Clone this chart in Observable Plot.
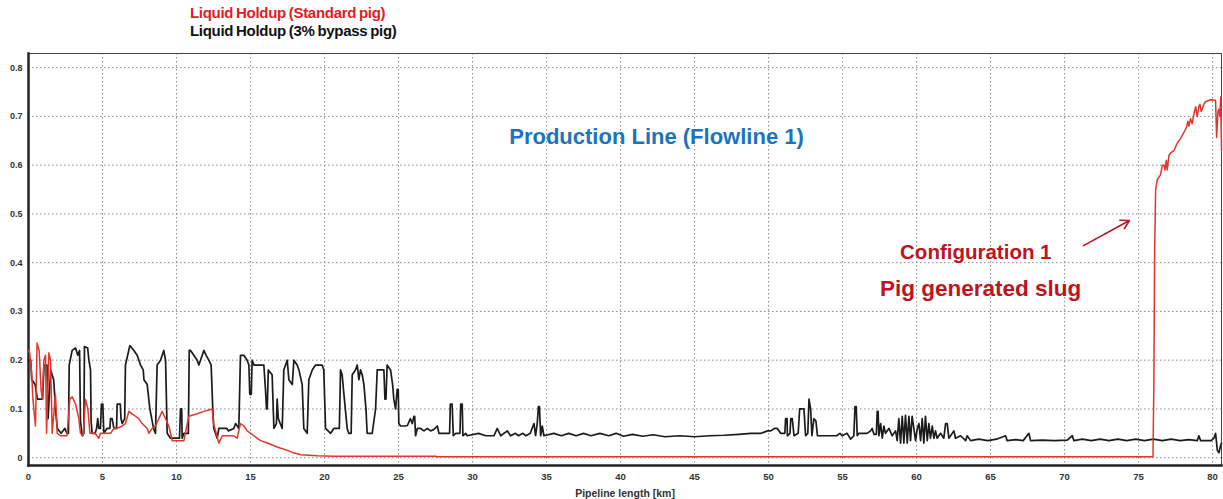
<!DOCTYPE html>
<html>
<head>
<meta charset="utf-8">
<script src="https://cdn.jsdelivr.net/npm/d3@7"></script>
<script src="https://cdn.jsdelivr.net/npm/@observablehq/plot@0.6"></script>
<style>
  html, body { margin: 0; padding: 0; background: #fff; }
  #wrap { position: relative; width: 1223px; height: 499px; font-family: "Liberation Sans", Arial, sans-serif; }
  #legend { position: absolute; left: 190px; top: 4px; font-weight: bold; font-size: 15px; line-height: 18px; letter-spacing: -0.3px; word-spacing: -1px; }
  #chart { position: absolute; left: 0; top: 0; }
</style>
</head>
<body>
<div id="wrap">
  <div id="chart"></div>
  <div id="legend">
    <div style="color:#e31b1f">Liquid Holdup (Standard pig)</div>
    <div style="color:#111">Liquid Holdup (3% bypass pig)</div>
  </div>
</div>
<script>
// ---- Data ----
const xTicks = [0, 5, 10, 15, 20, 25, 30, 35, 40, 45, 50, 55, 60, 65, 70, 75, 80];
const yTicks = [0, 0.1, 0.2, 0.3, 0.4, 0.5, 0.6, 0.7, 0.8];
const xLabel = "Pipeline length [km]";

const seriesNames = ["Liquid Holdup (Standard pig)", "Liquid Holdup (3% bypass pig)"];

// Standard pig (red)
const standardKm = [0,0.08,0.2,0.3,0.36,0.47,0.58,0.72,0.85,0.93,1.04,1.15,1.22,1.38,1.49,1.6,1.82,1.94,2.15,2.6,2.79,2.95,3.18,3.4,3.51,3.69,3.85,4.01,4.15,4.3,4.5,4.75,4.86,5.54,5.77,6.0,6.33,6.55,6.78,7.0,7.23,7.45,7.68,8.02,8.13,8.35,8.58,8.8,9.03,9.26,9.48,9.71,10.27,10.5,10.83,11.4,11.85,12.41,12.5,12.86,13.09,13.87,14.1,14.32,14.55,14.77,15.23,15.68,16.13,16.8,17.5,17.9,18.4,19.5,20.6,27.5,27.6,75.97,76.03,76.08,76.15,76.26,76.37,76.48,76.6,76.71,76.78,76.87,76.93,77.05,77.16,77.39,77.61,77.84,78.06,78.24,78.33,78.4,78.51,78.62,78.74,78.85,78.96,79.07,79.14,79.23,79.3,79.41,79.52,79.86,80.2,80.27,80.36,80.43,80.49,80.55,80.6];
const standardHoldup = [0.22,0.215,0.18,0.12,0.1,0.065,0.235,0.22,0.14,0.12,0.2,0.21,0.05,0.215,0.2,0.05,0.13,0.05,0.045,0.045,0.12,0.125,0.11,0.08,0.05,0.045,0.12,0.1,0.05,0.05,0.05,0.04,0.05,0.05,0.06,0.06,0.065,0.07,0.095,0.09,0.085,0.08,0.07,0.06,0.05,0.06,0.065,0.08,0.095,0.08,0.065,0.035,0.035,0.035,0.085,0.09,0.095,0.1,0.07,0.03,0.045,0.045,0.04,0.07,0.065,0.055,0.045,0.035,0.03,0.022,0.015,0.01,0.006,0.004,0.003,0.003,0.002,0.002,0.15,0.42,0.55,0.57,0.575,0.58,0.6,0.6,0.59,0.61,0.59,0.62,0.625,0.63,0.645,0.655,0.667,0.678,0.69,0.68,0.695,0.685,0.705,0.72,0.7,0.72,0.725,0.71,0.715,0.725,0.73,0.734,0.733,0.657,0.71,0.715,0.7,0.74,0.63];

// 3% bypass pig (black)
const bypassKm = [0,0.15,0.22,0.45,0.6,0.95,1.05,1.25,1.32,1.5,1.7,1.85,1.95,2.2,2.45,2.6,2.7,
2.75,2.95,3.18,3.33,3.45,3.51,3.63,3.74,
3.78,4.0,4.08,4.19,4.23,4.3,4.5,4.6,4.68,4.75,4.86,
4.93,5.02,5.09,5.3,5.5,5.54,5.65,5.77,5.95,5.99,6.2,6.25,6.33,6.5,
6.55,6.85,7.12,7.34,7.57,7.75,7.8,8.02,8.2,8.45,8.58,
8.69,8.92,9.14,9.26,9.37,9.59,10.2,10.27,10.35,10.38,10.5,10.8,
10.86,10.95,11.17,11.4,11.51,11.62,11.85,12.0,12.18,12.34,12.45,12.52,12.75,12.86,13.4,13.5,13.87,13.99,14.1,14.21,
14.32,14.55,14.77,14.89,14.95,15.05,15.11,15.23,15.9,16.01,16.08,16.13,16.2,16.46,16.58,16.75,16.8,16.88,17.14,
17.25,17.48,17.59,17.82,17.93,18.15,18.27,18.49,18.6,18.83,
18.94,19.17,19.39,19.84,19.95,20.07,20.41,20.63,21.0,
21.08,21.19,21.31,21.53,21.64,21.8,
21.87,22.09,22.21,22.32,22.43,22.55,22.66,22.8,22.88,23.22,23.45,
23.56,24.01,24.08,24.15,24.23,24.46,24.6,24.68,24.8,24.91,24.98,25.02,25.14,25.4,25.6,
25.8,25.93,26.04,26.09,26.15,26.27,26.49,26.72,26.94,27.17,27.39,27.62,27.73,27.84,28.29,
28.45,28.5,28.62,28.7,28.86,29.15,29.2,29.3,29.35,29.53,29.64,30.4,30.9,31.45,31.67,31.9,32.35,32.57,
32.9,33.1,33.4,33.6,33.9,
34.15,34.26,34.37,34.45,34.52,34.6,34.71,34.82,
35.5,36.0,36.5,37.0,37.5,38.0,38.6,39.2,39.7,40.2,40.8,41.5,42.2,43.0,44.0,45.0,46.0,47.0,48.0,48.8,49.5,49.92,50.14,50.4,50.59,50.82,51.1,51.15,51.25,51.27,51.45,51.5,51.6,51.72,52.0,
52.1,52.39,52.5,52.65,52.73,52.84,52.93,53.06,53.2,53.3,53.5,
54.0,54.6,54.82,54.97,55.31,55.54,55.76,55.84,55.92,55.99,56.1,56.66,56.89,57.0,57.12,57.28,57.34,57.4,57.45,57.57,57.68,57.79,57.9,58.13,58.35,58.58,
58.69,58.8,58.92,59.03,59.14,59.25,59.37,59.48,59.59,59.7,59.93,60.05,60.16,60.27,60.38,60.49,60.6,60.72,60.83,60.94,61.06,61.17,61.28,61.39,61.62,61.84,61.96,62.07,62.18,62.52,62.63,62.97,63.31,63.42,63.65,
64.2,64.8,65.4,66.01,66.12,66.7,67.2,67.59,67.7,68.5,69.3,70.18,70.52,70.63,71.2,71.8,72.4,73.0,73.6,74.2,74.8,75.4,76.0,76.6,77.2,77.8,78.4,78.96,79.07,79.19,79.41,79.9,80.09,80.2,80.32,80.43,80.54,80.6];
const bypassHoldup = [0.2,0.2,0.16,0.15,0.12,0.12,0.19,0.19,0.08,0.18,0.16,0.09,0.06,0.05,0.06,0.05,0.05,
0.19,0.22,0.225,0.21,0.22,0.075,0.045,0.05,
0.228,0.225,0.2,0.18,0.075,0.05,0.05,0.06,0.08,0.06,0.06,
0.11,0.11,0.05,0.06,0.06,0.08,0.08,0.06,0.06,0.11,0.11,0.08,0.07,0.08,
0.19,0.23,0.22,0.21,0.19,0.18,0.16,0.15,0.1,0.06,0.05,
0.19,0.2,0.22,0.2,0.05,0.04,0.04,0.1,0.1,0.04,0.05,0.05,
0.22,0.22,0.21,0.2,0.19,0.2,0.22,0.21,0.2,0.19,0.1,0.06,0.04,0.06,0.06,0.055,0.06,0.07,0.065,0.06,
0.21,0.21,0.2,0.19,0.13,0.13,0.2,0.19,0.19,0.14,0.1,0.1,0.18,0.17,0.06,0.07,0.12,0.08,0.06,
0.18,0.2,0.16,0.15,0.2,0.19,0.18,0.15,0.06,0.05,
0.16,0.18,0.19,0.19,0.18,0.06,0.05,0.06,0.06,
0.18,0.17,0.13,0.06,0.05,0.05,
0.17,0.18,0.19,0.16,0.18,0.17,0.15,0.1,0.05,0.05,0.1,
0.18,0.18,0.12,0.12,0.19,0.18,0.15,0.12,0.1,0.14,0.14,0.07,0.065,0.065,0.066,
0.08,0.07,0.085,0.085,0.045,0.06,0.06,0.055,0.06,0.055,0.058,0.065,0.05,0.05,0.05,
0.05,0.11,0.11,0.045,0.05,0.05,0.11,0.11,0.045,0.05,0.045,0.05,0.045,0.045,0.06,0.045,0.055,0.045,
0.05,0.045,0.05,0.045,0.05,
0.07,0.045,0.07,0.105,0.105,0.045,0.065,0.045,
0.05,0.045,0.05,0.045,0.05,0.045,0.05,0.045,0.05,0.044,0.048,0.044,0.047,0.043,0.045,0.043,0.045,0.046,0.048,0.05,0.05,0.055,0.055,0.06,0.06,0.05,0.05,0.08,0.08,0.045,0.05,0.08,0.08,0.045,0.05,
0.1,0.1,0.045,0.05,0.12,0.1,0.045,0.08,0.075,0.045,0.045,
0.045,0.045,0.05,0.045,0.05,0.038,0.045,0.105,0.105,0.045,0.05,0.05,0.055,0.06,0.048,0.048,0.095,0.095,0.045,0.07,0.04,0.065,0.05,0.06,0.045,0.055,
0.035,0.08,0.03,0.085,0.03,0.087,0.03,0.085,0.035,0.085,0.035,0.06,0.07,0.035,0.08,0.03,0.085,0.035,0.07,0.04,0.065,0.04,0.055,0.04,0.05,0.04,0.07,0.07,0.04,0.055,0.04,0.045,0.035,0.045,0.035,
0.038,0.035,0.038,0.045,0.035,0.037,0.035,0.05,0.035,0.036,0.035,0.036,0.045,0.035,0.038,0.035,0.038,0.035,0.038,0.035,0.038,0.035,0.038,0.035,0.038,0.035,0.037,0.035,0.045,0.035,0.035,0.035,0.04,0.05,0.015,0.01,0.025,0.03];

// Annotations (data units)
const noteLabels = ["Production Line (Flowline 1)", "Configuration 1", "Pig generated slug"];
const noteKm = [42.43, 64.0, 64.32];
const noteHoldup = [0.657, 0.421, 0.347];
const noteColors = ["#1c73bd", "#be1320", "#be1320"];
const noteSizes = [22, 20.5, 22.5];
const arrowFrom = [71.28, 0.435];
const arrowTo = [74.38, 0.4865];

// ---- Build tables ----
const standard = standardKm.map((k, i) => ({km: k, holdup: standardHoldup[i], series: seriesNames[0]}));
const bypass = bypassKm.map((k, i) => ({km: k, holdup: bypassHoldup[i], series: seriesNames[1]}));
const notes = noteLabels.map((t, i) => ({text: t, km: noteKm[i], holdup: noteHoldup[i], color: noteColors[i], size: noteSizes[i]}));
const arrows = [{x1: arrowFrom[0], y1: arrowFrom[1], x2: arrowTo[0], y2: arrowTo[1]}];

const chart = Plot.plot({
  width: 1223,
  height: 499,
  marginTop: 53,
  marginBottom: 34,
  marginLeft: 28,
  marginRight: 2,
  style: {fontFamily: "'Liberation Sans', Arial, sans-serif", fontSize: "9px", fontWeight: "bold", color: "#333", background: "#fff"},
  x: {domain: [0, 80.6]},
  y: {domain: [-0.016, 0.829]},
  marks: [
    Plot.gridX(xTicks, {stroke: "#8a8a8a", strokeOpacity: 1, strokeDasharray: "1.5,2.5"}),
    Plot.gridY(yTicks, {stroke: "#8a8a8a", strokeOpacity: 1, strokeDasharray: "1.5,2.5"}),
    Plot.frame({stroke: "#444", strokeWidth: 1}),
    Plot.frame({anchor: "left", stroke: "#222", strokeWidth: 2.5}),
    Plot.frame({anchor: "bottom", stroke: "#222", strokeWidth: 2.5}),
    Plot.axisX(xTicks, {tickSize: 0, tickPadding: 8, label: null, fill: "#333", fontSize: 9.5}),
    Plot.axisX([], {label: xLabel, labelAnchor: "center", labelArrow: "none", labelOffset: 31, fontSize: 10.5, fill: "#333"}),
    Plot.axisY(yTicks, {tickSize: 0, tickPadding: 6, label: null, tickFormat: d => d === 0 ? "0" : d.toFixed(1), fill: "#333"}),
    Plot.line(bypass, {x: "km", y: "holdup", stroke: "#1b1b1b", strokeWidth: 1.7, curve: "linear"}),
    Plot.line(standard, {x: "km", y: "holdup", stroke: "#e0362c", strokeWidth: 1.5, curve: "linear"}),
    Plot.text(notes.slice(0, 1), {x: "km", y: "holdup", text: "text", fill: "color", fontSize: noteSizes[0], fontWeight: "bold", textAnchor: "middle"}),
    Plot.text(notes.slice(1, 2), {x: "km", y: "holdup", text: "text", fill: "color", fontSize: noteSizes[1], fontWeight: "bold", textAnchor: "middle"}),
    Plot.text(notes.slice(2, 3), {x: "km", y: "holdup", text: "text", fill: "color", fontSize: noteSizes[2], fontWeight: "bold", textAnchor: "middle"}),
    Plot.arrow(arrows, {x1: "x1", y1: "y1", x2: "x2", y2: "y2", stroke: "#be1320", strokeWidth: 1.6, headLength: 9})
  ]
});
document.getElementById("chart").appendChild(chart);
</script>
</body>
</html>
